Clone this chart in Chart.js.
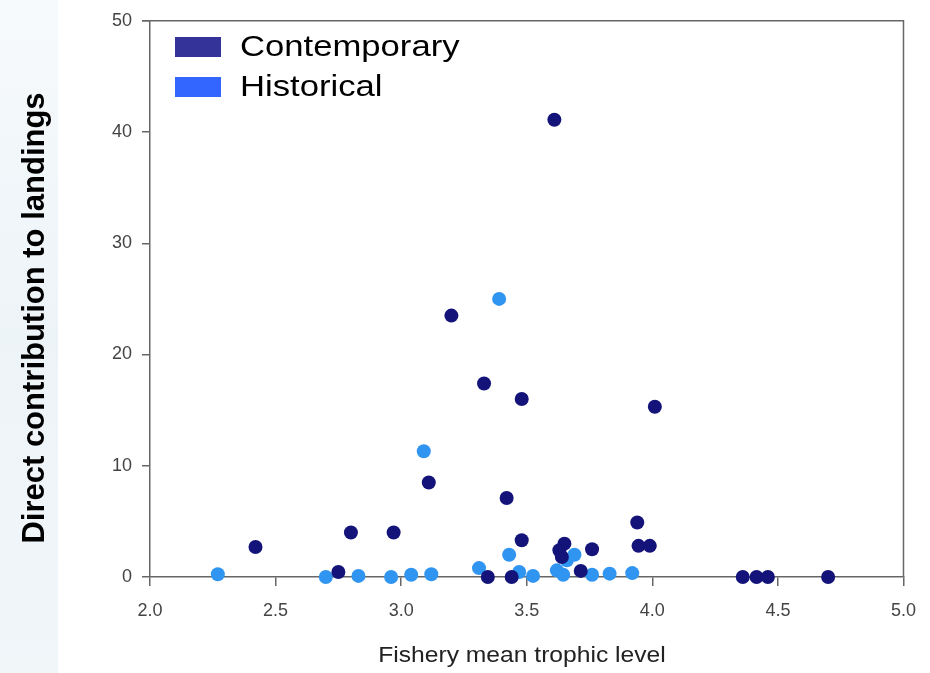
<!DOCTYPE html>
<html>
<head>
<meta charset="utf-8">
<script src="https://cdn.jsdelivr.net/npm/chart.js@4.4.1/dist/chart.umd.min.js"></script>
<style>
  html, body { margin: 0; padding: 0; background: #fff; }
  #wrap { width: 930px; height: 673px; position: relative; }
</style>
</head>
<body>
<div id="wrap"><canvas id="c" width="930" height="673"></canvas></div>
<script>
// values (x = fishery mean trophic level, y = direct contribution)
const contempX = [2.42, 2.75, 2.80, 2.97, 3.11, 3.20, 3.33, 3.345, 3.42, 3.44, 3.48, 3.48, 3.61,
                  3.65, 3.63, 3.64, 3.715, 3.76, 3.94, 3.945, 3.99, 4.01, 4.36, 4.415, 4.46, 4.70];
const contempY = [2.7, 0.45, 4.0, 4.0, 8.5, 23.5, 17.4, 0, 7.1, 0, 16.0, 3.3, 41.1,
                  3.0, 2.4, 1.8, 0.55, 2.5, 4.9, 2.8, 2.8, 15.3, 0, 0, 0, 0];
const histX = [2.27, 2.70, 2.83, 2.96, 3.04, 3.12, 3.09, 3.31, 3.39, 3.43, 3.47, 3.525,
               3.62, 3.645, 3.66, 3.69, 3.76, 3.83, 3.92];
const histY = [0.25, 0, 0.1, 0, 0.2, 0.25, 11.3, 0.8, 25.0, 2.0, 0.45, 0.1,
               0.6, 0.2, 1.5, 2.0, 0.2, 0.3, 0.35];
const seriesNames = ["Contemporary", "Historical"];
const xTicks = [2.0, 2.5, 3.0, 3.5, 4.0, 4.5, 5.0];
const yTicks = [0, 10, 20, 30, 40, 50];

const pointColors = ["#13137a", "#2f95f0"];
const legendColors = ["#333399", "#3366ff"];
const axisColor = "#666";
const FONT = "'Liberation Sans', Arial, sans-serif";

function pairs(xs, ys) { return xs.map(function (x, i) { return { x: x, y: ys[i] }; }); }

// the source picture is a little wider than tall in its lettering
function wideText(ctx, text, x, y, sx) {
  ctx.save();
  ctx.translate(x, y); ctx.scale(sx, 1);
  ctx.fillText(text, 0, 0);
  ctx.restore();
}

// background: white page with the pale blue strip on the far left
const backdrop = {
  id: "backdrop",
  beforeDraw(chart) {
    const ctx = chart.ctx;
    ctx.save();
    ctx.fillStyle = "#fff";
    ctx.fillRect(0, 0, chart.width, chart.height);
    const g = ctx.createLinearGradient(0, 0, 0, chart.height);
    g.addColorStop(0, "#f7fafc");
    g.addColorStop(0.5, "#edf4f8");
    g.addColorStop(1, "#f1f6f9");
    ctx.fillStyle = g;
    ctx.fillRect(0, 0, 58, chart.height);
    ctx.restore();
  }
};

// top/right frame, axis titles and the legend
const extras = {
  id: "extras",
  afterDraw(chart) {
    const ctx = chart.ctx, a = chart.chartArea;
    ctx.save();
    ctx.strokeStyle = axisColor; ctx.lineWidth = 1.5;
    ctx.beginPath();
    ctx.moveTo(a.left - 8, a.top); ctx.lineTo(a.right, a.top); ctx.lineTo(a.right, a.bottom);
    ctx.stroke();

    ctx.fillStyle = "#222";
    ctx.textAlign = "center"; ctx.textBaseline = "middle";
    ctx.font = "22px " + FONT;
    wideText(ctx, "Fishery mean trophic level", 522, 656, 1.12);

    ctx.save();
    ctx.translate(35, 318); ctx.rotate(-Math.PI / 2);
    ctx.fillStyle = "#000";
    ctx.font = "bold 31px " + FONT;
    ctx.fillText("Direct contribution to landings", 0, 0);
    ctx.restore();

    ctx.textAlign = "left";
    ctx.font = "30px " + FONT;
    seriesNames.forEach(function (name, i) {
      const cy = 47 + i * 40;
      ctx.fillStyle = legendColors[i];
      ctx.fillRect(175, cy - 10, 46, 20);
      ctx.fillStyle = "#000";
      wideText(ctx, name, 240, cy + 1, 1.155);
    });
    ctx.restore();
  }
};

const tickFont = { family: FONT, size: 18 };

new Chart(document.getElementById("c"), {
  type: "scatter",
  data: {
    datasets: [
      { label: seriesNames[0], data: pairs(contempX, contempY), backgroundColor: pointColors[0],
        borderColor: pointColors[0], borderWidth: 0, pointRadius: 7, pointHoverRadius: 7, clip: false },
      { label: seriesNames[1], data: pairs(histX, histY), backgroundColor: pointColors[1],
        borderColor: pointColors[1], borderWidth: 0, pointRadius: 7, pointHoverRadius: 7, clip: false }
    ]
  },
  options: {
    responsive: false, animation: false, devicePixelRatio: 1,
    layout: { padding: { top: 19, right: 26, left: 0, bottom: 0 } },
    plugins: { legend: { display: false }, tooltip: { enabled: false } },
    scales: {
      x: {
        type: "linear", min: xTicks[0], max: xTicks[xTicks.length - 1],
        afterBuildTicks: function (s) { s.ticks = xTicks.map(function (v) { return { value: v }; }); },
        afterFit: function (s) { s.height = 96; },
        border: { color: axisColor, width: 1.5 },
        grid: { drawOnChartArea: false, drawTicks: true, tickLength: 9, color: axisColor, lineWidth: 1.5 },
        ticks: { color: "#444", font: tickFont, padding: 14, callback: function (v) { return Number(v).toFixed(1); } }
      },
      y: {
        type: "linear", min: yTicks[0], max: yTicks[yTicks.length - 1],
        afterBuildTicks: function (s) { s.ticks = yTicks.map(function (v) { return { value: v }; }); },
        afterFit: function (s) { s.width = 150; },
        border: { color: axisColor, width: 1.5 },
        grid: { drawOnChartArea: false, drawTicks: true, tickLength: 8, color: axisColor, lineWidth: 1.5 },
        ticks: { color: "#444", font: tickFont, padding: 10 }
      }
    }
  },
  plugins: [backdrop, extras]
});
</script>
</body>
</html>
